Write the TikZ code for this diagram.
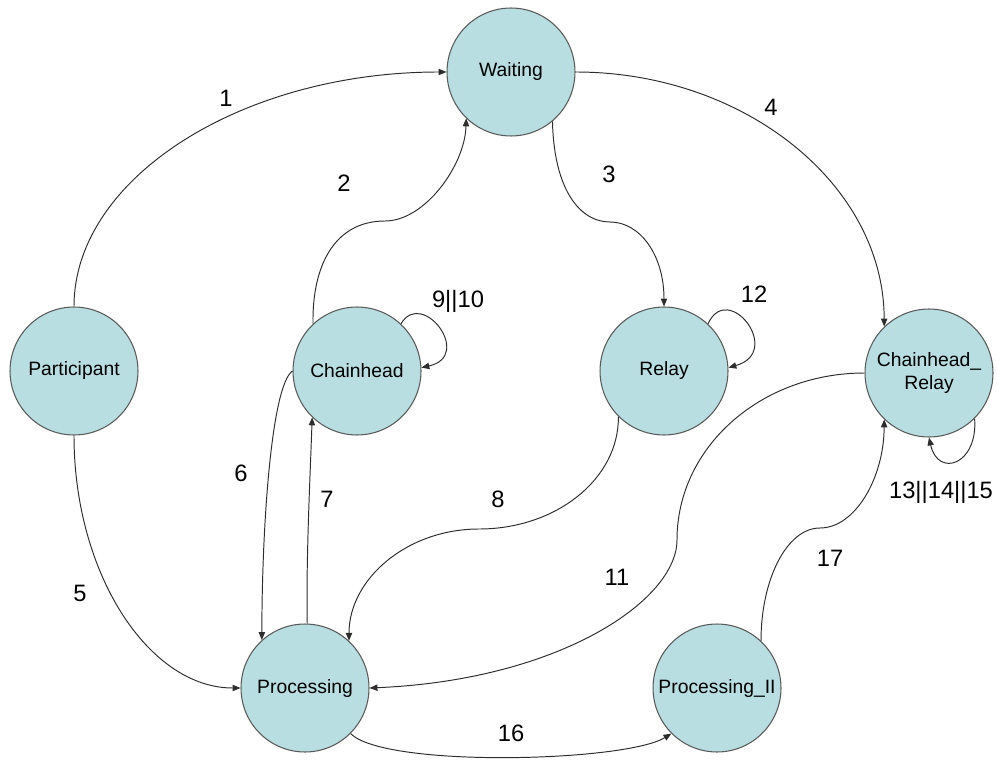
\documentclass[tikz,border=0pt]{standalone}
\usepackage{fontspec}
\setmainfont{Liberation Sans}
\usetikzlibrary{arrows.meta}
\definecolor{statefill}{RGB}{184,222,225}
\definecolor{stateline}{RGB}{90,90,90}
\definecolor{edgeline}{RGB}{45,45,45}
\begin{document}
\begin{tikzpicture}[x=0.02cm, y=-0.02cm,
  state/.style={circle, draw=stateline, fill=statefill, line width=0.6pt,
    minimum size=2.56cm, inner sep=0pt, align=center,
    font=\fontsize{11}{13}\selectfont},
  trans/.style={draw=edgeline, line width=0.55pt,
    -{Triangle[length=4.5pt,width=3.6pt]}},
  lbl/.style={font=\fontsize{13.5}{15}\selectfont, inner sep=0pt}]
\useasboundingbox (0,0) rectangle (997,760);

% states
\node[state] (wa) at (511,72)  {Waiting};
\node[state] (pa) at (74,371)  {Participant};
\node[state] (ch) at (357,371) {Chainhead};
\node[state] (re) at (664,371) {Relay};
\node[state] (cr) at (929,373) {Chainhead\_\\Relay};
\node[state] (pr) at (305,688) {Processing};
\node[state] (p2) at (717,688) {Processing\_II};

% transitions
\draw[trans] (pa.north) .. controls (74,178) and (242,72) .. (wa.west);
\draw[trans] (ch.133) .. controls (312,265) and (335,221) .. (385,221)
  .. controls (425,221) and (465,165) .. (wa.226);
\draw[trans] (wa.-50) .. controls (554,190) and (580,222) .. (610,222)
  .. controls (640,222) and (664,255) .. (re.north);
\draw[trans] (wa.east) .. controls (745,72) and (884,185) .. (cr.134);
\draw[trans] (pa.south) .. controls (74,574) and (149,688) .. (pr.west);
\draw[trans] (ch.west) .. controls (272,385) and (262,520) .. (pr.132);
\draw[trans] (pr.88) .. controls (306,560) and (310,480) .. (ch.226);
\draw[trans] (re.225) .. controls (619,479) and (556,529) .. (479,529)
  .. controls (407,529) and (349,579) .. (pr.47);
\draw[trans] (ch.47) .. controls (422,288) and (474,356) .. (ch.3);
\draw[trans] (cr.west) .. controls (761,373) and (677,447) .. (677,540)
  .. controls (677,600) and (560,680) .. (pr.east);
\draw[trans] (re.47) .. controls (728,280) and (784,352) .. (re.3);
\draw[trans] (cr.-45) .. controls (978,465) and (938,478) .. (cr.-90);
\draw[trans] (pr.-45) .. controls (385,768) and (625,762) .. (p2.-135);
\draw[trans] (p2.47) .. controls (761,579) and (787,528) .. (820,528)
  .. controls (855,528) and (884,478) .. (cr.226);

% transition labels
\node[lbl] (l1)  at (226,98)  {1};
\node[lbl] (l2)  at (344,183) {2};
\node[lbl] (l3)  at (609,174) {3};
\node[lbl] (l4)  at (771,107) {4};
\node[lbl] (l5)  at (80,593)  {5};
\node[lbl] (l6)  at (241,473) {6};
\node[lbl] (l7)  at (327,499) {7};
\node[lbl] (l8)  at (498,499) {8};
\node[lbl] (l9)  at (458,301) {9||10};
\node[lbl] (l11) at (617,577) {11};
\node[lbl] (l12) at (754,294) {12};
\node[lbl] (l13) at (941,492) {13||14||15};
\node[lbl] (l16) at (511,733) {16};
\node[lbl] (l17) at (830,558) {17};
\end{tikzpicture}
\end{document}
